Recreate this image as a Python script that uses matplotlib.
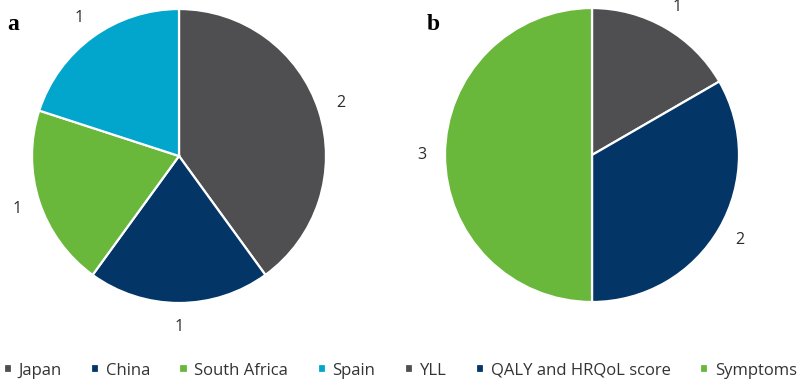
import matplotlib.pyplot as plt

# panel a: countries
countries = ['Japan', 'China', 'South Africa', 'Spain']
country_counts = [2, 1, 1, 1]
country_colors = ['#4f4f52', '#033567', '#69b83b', '#02a5cc']

# panel b: outcome measures
outcomes = ['YLL', 'QALY and HRQoL score', 'Symptoms']
outcome_counts = [1, 2, 3]
outcome_colors = ['#4f4f52', '#033567', '#69b83b']

plt.rcParams['font.family'] = ['Open Sans', 'DejaVu Sans']

fig = plt.figure(figsize=(7.97, 3.82), dpi=100)

def draw_pie(rect, values, colors, letter, letter_x):
    ax = fig.add_axes(rect)
    wedges, texts = ax.pie(values, colors=colors, labels=[str(v) for v in values],
                           startangle=90, counterclock=False, labeldistance=1.16,
                           wedgeprops=dict(edgecolor='white', linewidth=1.6),
                           textprops=dict(fontsize=11.5, color='#2b2b2b'))
    for t in texts:
        t.set_ha('center')
        t.set_va('center')
    ax.set_xlim(-1, 1)
    ax.set_ylim(-1, 1)
    ax.set_aspect('equal')
    fig.text(letter_x, 0.935, letter, fontsize=17, fontweight='bold',
             family='Liberation Serif', ha='left', va='center')
    return wedges

wa = draw_pie([0.0401, 0.2068, 0.369, 0.7696], country_counts, country_colors, 'a', 0.009)
wb = draw_pie([0.5583, 0.2094, 0.369, 0.7696], outcome_counts, outcome_colors, 'b', 0.536)

fig.legend(list(wa) + list(wb), countries + outcomes, ncol=7, loc='center',
           bbox_to_anchor=(0.502, 0.03), frameon=False, handlelength=0.5,
           handleheight=0.5, handletextpad=0.4, columnspacing=1.75,
           fontsize=12, labelcolor='#333333', borderpad=0, borderaxespad=0)

fig.savefig('out.png', dpi=100)
